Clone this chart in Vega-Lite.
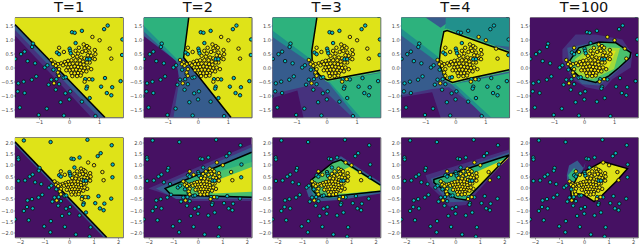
{"$schema":"https://vega.github.io/schema/vega-lite/v6.json","padding":{"left":0,"top":-1.5,"right":0,"bottom":0},"background":"white","bounds":"flush","columns":5,"spacing":{"column":20.75,"row":20},
"config":{"font":"DejaVu Sans","view":{"stroke":"#333","strokeWidth":0.8},"axis":{"grid":false,"domain":false,"tickSize":1.5,"tickWidth":0.5,"tickColor":"#444","labelFontSize":5,"labelColor":"#444","labelPadding":0.5},"title":{"fontSize":14.5,"fontWeight":"normal","offset":2.5,"baseline":"alphabetic","color":"#111"},"point":{"filled":true}},
"datasets":{
"regions":[
{"p":"a1","n":0,"l":0,"x":[-1.8,1.8,1.8,-1.8],"y":[1.8,1.8,-1.8,-1.8]},
{"p":"a1","n":1,"l":1,"x":[-1.8,-1.8,1.8,1.8,0.75],"y":[1.15,1.8,1.8,-1.8,-1.8]},
{"p":"a1","n":2,"l":2,"x":[-1.8,-1.8,1.8,1.8,1.0],"y":[1.35,1.8,1.8,-1.8,-1.8]},
{"p":"a1","n":3,"l":7,"x":[-1.8,-1.8,1.8,1.8,1.2],"y":[1.55,1.8,1.8,-1.8,-1.8]},
{"p":"a2","n":0,"l":0,"x":[-1.8,1.8,1.8,-1.8],"y":[1.8,1.8,-1.8,-1.8]},
{"p":"a2","n":1,"l":1,"x":[-1.8,-0.72,-0.64,-0.94,1.8,1.8,-1.8],"y":[1.25,0.33,-0.3,-1.8,-1.8,1.8,1.8]},
{"p":"a2","n":2,"l":2,"x":[-1.8,-0.72,-0.61,-0.81,1.8,1.8,-1.8],"y":[1.13,0.24,-0.42,-1.8,-1.8,1.8,1.8]},
{"p":"a2","n":3,"l":3,"x":[-1.8,-0.3,-0.47,-0.69,-1.8],"y":[1.8,1.8,0.36,0.2,1.3]},
{"p":"a2","n":4,"l":4,"x":[-1.8,-0.3,-0.47,-0.69,-1.8],"y":[1.8,1.8,0.36,0.3,1.5]},
{"p":"a2","n":5,"l":7,"x":[-0.3,1.8,1.8,1.11,-0.47],"y":[1.8,1.8,-1.8,-1.8,0.36]},
{"p":"a3","n":0,"l":1,"x":[-1.8,1.8,1.8,-1.8],"y":[1.8,1.8,-1.8,-1.8]},
{"p":"a3","n":1,"l":0,"x":[-1.8,-0.97,-0.77,-1.8],"y":[-1.1,-0.83,-1.8,-1.8]},
{"p":"a3","n":2,"l":2,"x":[-1.8,1.8,1.8,0.87,-0.19,-0.58,-1.8],"y":[1.8,1.8,-1.8,-1.8,-0.71,-0.65,-0.95]},
{"p":"a3","n":3,"l":3,"x":[-1.8,-0.32,-0.49,-0.52,-1.8],"y":[1.8,1.8,0.6,0.15,1.1]},
{"p":"a3","n":4,"l":3,"x":[0.03,1.8,1.8,1.0],"y":[-0.5,-0.2,-1.8,-1.8]},
{"p":"a3","n":5,"l":4,"x":[-1.8,-0.32,-0.49,-0.52,-1.8],"y":[1.8,1.8,0.6,0.3,1.33]},
{"p":"a3","n":6,"l":4,"x":[0.09,1.8,1.8,1.14],"y":[-0.5,-0.2,-1.8,-1.8]},
{"p":"a3","n":7,"l":5,"x":[-0.32,1.8,1.8,0.03,-0.19,-0.52,-0.52],"y":[1.8,1.8,-0.17,-0.52,-0.35,0.04,0.6]},
{"p":"a3","n":8,"l":7,"x":[-0.32,1.8,1.8,0.09,0.03,-0.19,-0.24,-0.47,-0.49],"y":[1.8,1.8,-0.1,-0.43,-0.45,-0.34,-0.26,0.06,0.6]},
{"p":"a4","n":0,"l":1,"x":[-1.8,1.8,1.8,-1.8],"y":[1.8,1.8,-1.8,-1.8]},
{"p":"a4","n":1,"l":0,"x":[-1.8,-0.77,-0.49,-1.8],"y":[-1.07,-0.89,-1.8,-1.8]},
{"p":"a4","n":2,"l":2,"x":[-1.8,1.8,1.8,1.12,-0.21,-0.77,-1.8],"y":[1.8,1.8,-1.8,-1.8,-0.71,-0.77,-1.0]},
{"p":"a4","n":3,"l":3,"x":[-1.8,-0.99,-0.32,-0.54,-0.6,-1.8],"y":[1.8,1.8,1.57,0.36,0.2,1.15]},
{"p":"a4","n":4,"l":3,"x":[-0.32,1.8,1.8,-0.5],"y":[1.8,1.8,0.75,1.0]},
{"p":"a4","n":5,"l":3,"x":[-0.15,1.8,1.8,1.0],"y":[-0.58,-0.3,-1.8,-1.8]},
{"p":"a4","n":6,"l":4,"x":[-1.8,-0.99,-0.32,-0.54,-1.8],"y":[1.8,1.8,1.57,0.36,1.4]},
{"p":"a4","n":7,"l":4,"x":[0.0,1.8,1.8,1.2],"y":[-0.6,-0.2,-1.8,-1.8]},
{"p":"a4","n":8,"l":2,"x":[-0.99,-0.32,-0.32,-0.49],"y":[1.8,1.8,1.57,1.43]},
{"p":"a4","n":9,"l":5,"x":[-0.29,-0.42,-0.53,-0.58,-0.34,-0.1,0.34,1.8,1.8],"y":[1.4,1.35,0.71,0.12,-0.47,-0.6,-0.48,-0.14,0.6]},
{"p":"a4","n":10,"l":7,"x":[-0.27,-0.38,-0.49,-0.54,-0.32,-0.1,0.34,1.8,1.8],"y":[1.33,1.29,0.71,0.12,-0.42,-0.54,-0.42,-0.08,0.54]},
{"p":"a5","n":0,"l":0,"x":[-1.8,1.8,1.8,-1.8],"y":[1.8,1.8,-1.8,-1.8]},
{"p":"a5","n":1,"l":1,"x":[-0.72,-0.28,0.39,1.28,1.61,1.56,0.94,0.61,0.06,-0.39,-0.72],"y":[0.65,1.19,1.19,1.01,0.48,0,-0.42,-0.83,-0.71,-0.42,0.24]},
{"p":"a5","n":2,"l":2,"x":[-0.56,0.28,0.94,1.56,1.59,0.94,0.5,-0.06,-0.44],"y":[0.71,0.89,0.98,0.6,0.36,-0.3,-0.65,-0.6,-0.18]},
{"p":"a5","n":3,"l":5,"x":[-0.48,-0.17,0.5,1.06,1.56,1.53,1.17,0.83,0.39,-0.06,-0.44,-0.52],"y":[0.24,0.71,0.92,0.89,0.54,0.36,0,-0.3,-0.54,-0.42,-0.06,0.12]},
{"p":"a5","n":4,"l":6,"x":[-0.3,0.25,1.2,1.0,0.28,-0.25],"y":[0.3,0.75,0.7,-0.05,-0.42,-0.25]},
{"p":"a5","n":5,"l":7,"x":[-0.17,0.28,1.06,0.83,0.28,-0.11],"y":[0.24,0.6,0.6,0,-0.3,-0.18]},
{"p":"b1","n":0,"l":0,"x":[-2.2,2.2,2.2,-2.2],"y":[2.2,2.2,-2.2,-2.2]},
{"p":"b1","n":1,"l":2,"x":[-2.2,-2.2,2.2,2.2,1.42],"y":[1.88,2.2,2.2,-2.2,-2.2]},
{"p":"b1","n":2,"l":7,"x":[-2.2,-2.2,2.2,2.2,1.54],"y":[2.01,2.2,2.2,-2.2,-2.2]},
{"p":"b2","n":0,"l":0,"x":[-2.2,2.2,2.2,-2.2],"y":[2.2,2.2,-2.2,-2.2]},
{"p":"b2","n":1,"l":1,"x":[-2.01,-0.47,2.2,2.2,-0.47],"y":[-0.04,0.68,1.91,-0.59,-0.59]},
{"p":"b2","n":2,"l":2,"x":[-1.7,2.2,2.2,-0.88],"y":[-0.04,1.77,-0.51,-0.51]},
{"p":"b2","n":3,"l":4,"x":[-1.33,-1.02,2.2,2.2,-1.08],"y":[-0.04,0.1,1.55,-0.43,-0.33]},
{"p":"b2","n":4,"l":5,"x":[-0.47,0.34,2.2,2.2,-0.34],"y":[0.1,0.55,1.12,-0.36,-0.36]},
{"p":"b2","n":5,"l":7,"x":[0.62,2.2,2.2,0.62],"y":[0.25,0.9,-0.19,-0.26]},
{"p":"b3","n":0,"l":0,"x":[-2.2,2.2,2.2,-2.2],"y":[2.2,2.2,-2.2,-2.2]},
{"p":"b3","n":1,"l":2,"x":[-0.84,-0.43,0.39,0.59,2.2,2.2,0.52,-0.43,-0.73],"y":[-0.04,0.46,1.26,1.38,0.22,-0.26,-0.55,-0.62,-0.41]},
{"p":"b3","n":2,"l":3,"x":[-0.7,0.32,0.59,2.2,2.2,0.11,-0.5],"y":[0.03,1.12,1.26,0.13,-0.19,-0.48,-0.41]},
{"p":"b3","n":3,"l":5,"x":[2.2,0.59,0.25,-0.64,-0.57,-0.36,0.11,2.2],"y":[0.1,1.22,1.09,0.32,-0.12,-0.36,-0.41,-0.16]},
{"p":"b3","n":4,"l":7,"x":[0.11,0.93,2.2,2.2,0.79,0.18],"y":[0.46,0.9,0.07,-0.13,-0.26,-0.26]},
{"p":"b4","n":0,"l":0,"x":[-2.2,2.2,2.2,-2.2],"y":[2.2,2.2,-2.2,-2.2]},
{"p":"b4","n":1,"l":1,"x":[-1.21,2.2,2.2,0.43,-0.25,-0.66,-1.07],"y":[0.54,1.67,1.38,-0.77,-0.84,-0.33,0.1]},
{"p":"b4","n":2,"l":2,"x":[-1,2.2,2.2,0.43,-0.25,-0.87],"y":[0.39,1.55,1.41,-0.62,-0.65,0.1]},
{"p":"b4","n":3,"l":4,"x":[2.2,-0.87,-0.87,0.02,0.43],"y":[1.43,0.35,0.22,-0.48,-0.55]},
{"p":"b4","n":4,"l":7,"x":[0.56,2.2,0.49,0.02],"y":[0.54,1.33,-0.41,-0.04]},
{"p":"b5","n":0,"l":0,"x":[-2.2,2.2,2.2,-2.2],"y":[2.2,2.2,-2.2,-2.2]},
{"p":"b5","n":1,"l":2,"x":[-0.7,-0.61,-0.27,0,0.07,-0.2,-0.68],"y":[0.54,0.97,1.19,0.83,1.12,0.39,0.25]},
{"p":"b5","n":2,"l":4,"x":[-0.65,-0.4,-0.13,-0.2,-0.58],"y":[0.54,0.86,0.54,0.17,0.32]},
{"p":"b5","n":3,"l":7,"x":[0.75,1.77,1.3,0.75,0.41,0,-0.34,-0.44,-0.5,-0.54,-0.24,0.1],"y":[1.14,0.83,0.25,-0.33,-0.62,-0.33,-0.26,-0.62,-0.62,-0.12,0.54,0.75]}
],
"bounds":[
{"p":"a1","x":[-1.8,1.2],"y":[1.55,-1.8]},
{"p":"a2","x":[-0.3,-0.47,1.11],"y":[1.8,0.36,-1.8]},
{"p":"a3","x":[-0.32,-0.49,-0.47,-0.24,-0.1,0.03,0.14,1.8],"y":[1.8,0.6,0.06,-0.26,-0.38,-0.45,-0.43,-0.1]},
{"p":"a4","x":[1.8,-0.27,-0.38,-0.49,-0.54,-0.32,-0.1,0.34,1.8],"y":[0.54,1.33,1.29,0.71,0.12,-0.42,-0.54,-0.42,-0.08]},
{"p":"a5","x":[-0.48,-0.17,0.5,1.06,1.56,1.53,1.17,0.83,0.39,-0.06,-0.44,-0.52,-0.48],"y":[0.24,0.71,0.92,0.89,0.54,0.36,0,-0.3,-0.54,-0.42,-0.06,0.12,0.24]},
{"p":"b1","x":[-2.2,1.54],"y":[2.01,-2.2]},
{"p":"b2","x":[2.2,-1.02,-1.33,-1.08,2.2],"y":[1.55,0.1,-0.04,-0.33,-0.43]},
{"p":"b3","x":[2.2,0.59,0.25,-0.64,-0.57,-0.36,0.11,2.2],"y":[0.1,1.22,1.09,0.32,-0.12,-0.36,-0.41,-0.16]},
{"p":"b4","x":[2.2,-0.87,-0.87,0.02,0.43,2.2],"y":[1.43,0.35,0.22,-0.48,-0.55,1.43]},
{"p":"b5","x":[0.75,1.77,1.3,0.75,0.41,0,-0.34,-0.44,-0.5,-0.54,-0.24,0.1,0.75],"y":[1.14,0.83,0.25,-0.33,-0.62,-0.33,-0.26,-0.62,-0.62,-0.12,0.54,0.75,1.14]}
],
"pts":[
{"c":0,"x":0.10,"y":1.27},{"c":0,"x":0.19,"y":1.25},{"c":0,"x":0.43,"y":1.32},{"c":0,"x":1.17,"y":1.38},{"c":0,"x":1.29,"y":1.51},{"c":0,"x":1.78,"y":1.01},{"c":0,"x":0.22,"y":0.88},{"c":0,"x":-1.2,"y":0.86},{"c":0,"x":-1.23,"y":0.74},{"c":0,"x":-1.48,"y":0.57},{"c":0,"x":-1.6,"y":0.48},{"c":0,"x":-1.79,"y":0.31},{"c":0,"x":-1.38,"y":0.23},{"c":0,"x":-1.13,"y":0.15},{"c":0,"x":-0.4,"y":0.54},{"c":0,"x":-0.33,"y":0.48},{"c":0,"x":0.02,"y":0.68},{"c":0,"x":0.04,"y":0.6},{"c":0,"x":0.06,"y":0.51},{"c":0,"x":-0.81,"y":0},{"c":0,"x":-0.72,"y":0.08},{"c":0,"x":-0.52,"y":-0.08},{"c":0,"x":-0.37,"y":-0.24},{"c":0,"x":-1.09,"y":-0.32},{"c":0,"x":-1.24,"y":-0.44},{"c":0,"x":-1.51,"y":-0.51},{"c":0,"x":-1.69,"y":-0.57},{"c":0,"x":-1.71,"y":-0.86},{"c":0,"x":-1.48,"y":-0.92},{"c":0,"x":-0.59,"y":-0.44},{"c":0,"x":-0.42,"y":-0.42},{"c":0,"x":-0.68,"y":-0.62},{"c":0,"x":-0.33,"y":-0.6},{"c":0,"x":-0.44,"y":-0.8},{"c":0,"x":-0.18,"y":-0.37},{"c":0,"x":-0.11,"y":-0.35},{"c":0,"x":0.78,"y":-0.43},{"c":0,"x":0.54,"y":-0.42},{"c":0,"x":0.6,"y":-0.69},{"c":0,"x":0.58,"y":-0.76},{"c":0,"x":1.2,"y":-0.38},{"c":0,"x":1.07,"y":-0.69},{"c":0,"x":1.44,"y":-0.71},{"c":0,"x":1.26,"y":-0.92},{"c":0,"x":1.41,"y":-1},{"c":0,"x":1.72,"y":-0.49},{"c":0,"x":1.77,"y":0.45},{"c":0,"x":0.69,"y":-1.1},{"c":0,"x":0.43,"y":-1.23},{"c":0,"x":0.01,"y":-1.15},{"c":0,"x":-0.12,"y":-0.93},{"c":0,"x":0.04,"y":-0.86},{"c":0,"x":-0.28,"y":-1.25},{"c":0,"x":-0.74,"y":-1.48},{"c":0,"x":-1.64,"y":-1.44},{"c":0,"x":-1.01,"y":-1.71},{"c":0,"x":-0.17,"y":-1.73},{"c":0,"x":0.88,"y":-1.75},
{"c":0,"x":-1.84,"y":2.07},{"c":0,"x":-0.75,"y":2.0},{"c":0,"x":0.75,"y":2.1},{"c":0,"x":1.74,"y":1.86},{"c":0,"x":-2.07,"y":1.32},{"c":0,"x":-2.06,"y":1.23},{"c":0,"x":-2.06,"y":0.29},{"c":0,"x":-1.84,"y":-1.03},{"c":0,"x":-0.76,"y":-1.97},{"c":0,"x":0.28,"y":-2.07},{"c":0,"x":0.84,"y":-2.16},{"c":0,"x":-2.2,"y":-1.4},
{"c":1,"x":0.49,"y":0.83},{"c":1,"x":0.6,"y":0.77},{"c":1,"x":0.67,"y":0.71},{"c":1,"x":0.52,"y":0.69},{"c":1,"x":0.56,"y":0.6},{"c":1,"x":0.44,"y":0.56},{"c":1,"x":0.69,"y":0.54},{"c":1,"x":0.86,"y":0.63},{"c":1,"x":0.88,"y":0.48},{"c":1,"x":0.8,"y":0.33},{"c":1,"x":0.74,"y":0.42},{"c":1,"x":0.63,"y":0.44},{"c":1,"x":0.33,"y":0.71},{"c":1,"x":0.22,"y":0.6},{"c":1,"x":0.3,"y":0.5},{"c":1,"x":0.13,"y":0.42},{"c":1,"x":0.27,"y":0.39},{"c":1,"x":0.41,"y":0.36},{"c":1,"x":0.52,"y":0.33},{"c":1,"x":0.69,"y":0.18},{"c":1,"x":0.6,"y":0.18},{"c":1,"x":0.47,"y":0.21},{"c":1,"x":0.36,"y":0.26},{"c":1,"x":0.22,"y":0.26},{"c":1,"x":0.08,"y":0.26},{"c":1,"x":-0.03,"y":0.24},{"c":1,"x":-0.14,"y":0.2},{"c":1,"x":-0.26,"y":0.15},{"c":1,"x":-0.37,"y":0.12},{"c":1,"x":-0.48,"y":0.18},{"c":1,"x":-0.59,"y":0.27},{"c":1,"x":-0.53,"y":0.12},{"c":1,"x":-0.44,"y":0.06},{"c":1,"x":-0.33,"y":-0.06},{"c":1,"x":-0.37,"y":-0.18},{"c":1,"x":-0.33,"y":-0.3},{"c":1,"x":-0.2,"y":0.08},{"c":1,"x":-0.09,"y":0.12},{"c":1,"x":0.02,"y":0.12},{"c":1,"x":0.13,"y":0.14},{"c":1,"x":0.27,"y":0.14},{"c":1,"x":0.38,"y":0.12},{"c":1,"x":0.49,"y":0.1},{"c":1,"x":0.86,"y":0.3},{"c":1,"x":0.74,"y":-0.06},{"c":1,"x":-0.03,"y":0},{"c":1,"x":0.08,"y":0.02},{"c":1,"x":0.19,"y":0.04},{"c":1,"x":0.3,"y":0.02},{"c":1,"x":0.41,"y":0},{"c":1,"x":0.52,"y":-0.02},{"c":1,"x":0.63,"y":0},{"c":1,"x":0.02,"y":-0.1},{"c":1,"x":0.13,"y":-0.08},{"c":1,"x":0.24,"y":-0.08},{"c":1,"x":0.36,"y":-0.1},{"c":1,"x":0.47,"y":-0.12},{"c":1,"x":0.58,"y":-0.14},{"c":1,"x":0.08,"y":-0.2},{"c":1,"x":0.19,"y":-0.21},{"c":1,"x":0.3,"y":-0.2},{"c":1,"x":0.41,"y":-0.2},{"c":1,"x":0.11,"y":-0.31},{"c":1,"x":0.27,"y":-0.31},{"c":1,"x":0.39,"y":-0.29},{"c":1,"x":-0.09,"y":-0.1},{"c":1,"x":-0.33,"y":0.71},{"c":1,"x":-0.17,"y":0.56},{"c":1,"x":0.78,"y":1.1},{"c":1,"x":1.02,"y":0.98},{"c":1,"x":1.36,"y":0.68},{"c":1,"x":1.41,"y":0.32},{"c":1,"x":-0.5,"y":-0.57},{"c":1,"x":0.52,"y":-0.51},{"c":1,"x":0.67,"y":-0.42},
{"c":0,"x":0.6,"y":0.3},{"c":0,"x":0.69,"y":0.3}
]},
"concat":[
{"width":108,"height":100,"title":"T=1","encoding":{"x":{"field":"x","type":"quantitative","title":null,"scale":{"domain":[-1.8,1.8]},"axis":{"values":[-1,0,1]}},"y":{"field":"y","type":"quantitative","title":null,"scale":{"domain":[-1.8,1.8]},"axis":{"values":[-1.5,-1,-0.5,0,0.5,1,1.5],"format":".1f"}}},"layer":[
{"data":{"name":"regions"},"transform":[{"filter":"datum.p=='a1'"},{"flatten":["x","y"]},{"window":[{"op":"row_number","as":"i"}]}],"mark":{"type":"line","interpolate":"linear-closed","clip":true,"strokeWidth":0},"encoding":{"order":{"field":"i"},"detail":{"field":"n"},"fill":{"field":"l","type":"ordinal","legend":null,"scale":{"domain":[0,1,2,3,4,5,6,7],"range":["#461163","#46327e","#365c8d","#21908c","#2db27d","#4ac16d","#a0da39","#dfe318"]}}}},
{"data":{"name":"bounds"},"transform":[{"filter":"datum.p=='a1'"},{"flatten":["x","y"]},{"window":[{"op":"row_number","as":"i"}]}],"mark":{"type":"line","clip":true,"color":"black","strokeWidth":1.5},"encoding":{"order":{"field":"i"}}},
{"data":{"name":"pts"},"mark":{"type":"point","clip":true,"filled":true,"size":12,"stroke":"#111","strokeWidth":0.9,"opacity":1},"encoding":{"color":{"field":"c","type":"nominal","legend":null,"scale":{"domain":[0,1],"range":["#06bcc4","#f5e60a"]}}}}
]},
{"width":108,"height":100,"title":"T=2","encoding":{"x":{"field":"x","type":"quantitative","title":null,"scale":{"domain":[-1.8,1.8]},"axis":{"values":[-1,0,1]}},"y":{"field":"y","type":"quantitative","title":null,"scale":{"domain":[-1.8,1.8]},"axis":{"values":[-1.5,-1,-0.5,0,0.5,1,1.5],"format":".1f"}}},"layer":[
{"data":{"name":"regions"},"transform":[{"filter":"datum.p=='a2'"},{"flatten":["x","y"]},{"window":[{"op":"row_number","as":"i"}]}],"mark":{"type":"line","interpolate":"linear-closed","clip":true,"strokeWidth":0},"encoding":{"order":{"field":"i"},"detail":{"field":"n"},"fill":{"field":"l","type":"ordinal","legend":null,"scale":{"domain":[0,1,2,3,4,5,6,7],"range":["#461163","#46327e","#365c8d","#21908c","#2db27d","#4ac16d","#a0da39","#dfe318"]}}}},
{"data":{"name":"bounds"},"transform":[{"filter":"datum.p=='a2'"},{"flatten":["x","y"]},{"window":[{"op":"row_number","as":"i"}]}],"mark":{"type":"line","clip":true,"color":"black","strokeWidth":1.5},"encoding":{"order":{"field":"i"}}},
{"data":{"name":"pts"},"mark":{"type":"point","clip":true,"filled":true,"size":12,"stroke":"#111","strokeWidth":0.9,"opacity":1},"encoding":{"color":{"field":"c","type":"nominal","legend":null,"scale":{"domain":[0,1],"range":["#06bcc4","#f5e60a"]}}}}
]},
{"width":108,"height":100,"title":"T=3","encoding":{"x":{"field":"x","type":"quantitative","title":null,"scale":{"domain":[-1.8,1.8]},"axis":{"values":[-1,0,1]}},"y":{"field":"y","type":"quantitative","title":null,"scale":{"domain":[-1.8,1.8]},"axis":{"values":[-1.5,-1,-0.5,0,0.5,1,1.5],"format":".1f"}}},"layer":[
{"data":{"name":"regions"},"transform":[{"filter":"datum.p=='a3'"},{"flatten":["x","y"]},{"window":[{"op":"row_number","as":"i"}]}],"mark":{"type":"line","interpolate":"linear-closed","clip":true,"strokeWidth":0},"encoding":{"order":{"field":"i"},"detail":{"field":"n"},"fill":{"field":"l","type":"ordinal","legend":null,"scale":{"domain":[0,1,2,3,4,5,6,7],"range":["#461163","#46327e","#365c8d","#21908c","#2db27d","#4ac16d","#a0da39","#dfe318"]}}}},
{"data":{"name":"bounds"},"transform":[{"filter":"datum.p=='a3'"},{"flatten":["x","y"]},{"window":[{"op":"row_number","as":"i"}]}],"mark":{"type":"line","clip":true,"color":"black","strokeWidth":1.5},"encoding":{"order":{"field":"i"}}},
{"data":{"name":"pts"},"mark":{"type":"point","clip":true,"filled":true,"size":12,"stroke":"#111","strokeWidth":0.9,"opacity":1},"encoding":{"color":{"field":"c","type":"nominal","legend":null,"scale":{"domain":[0,1],"range":["#06bcc4","#f5e60a"]}}}}
]},
{"width":108,"height":100,"title":"T=4","encoding":{"x":{"field":"x","type":"quantitative","title":null,"scale":{"domain":[-1.8,1.8]},"axis":{"values":[-1,0,1]}},"y":{"field":"y","type":"quantitative","title":null,"scale":{"domain":[-1.8,1.8]},"axis":{"values":[-1.5,-1,-0.5,0,0.5,1,1.5],"format":".1f"}}},"layer":[
{"data":{"name":"regions"},"transform":[{"filter":"datum.p=='a4'"},{"flatten":["x","y"]},{"window":[{"op":"row_number","as":"i"}]}],"mark":{"type":"line","interpolate":"linear-closed","clip":true,"strokeWidth":0},"encoding":{"order":{"field":"i"},"detail":{"field":"n"},"fill":{"field":"l","type":"ordinal","legend":null,"scale":{"domain":[0,1,2,3,4,5,6,7],"range":["#461163","#46327e","#365c8d","#21908c","#2db27d","#4ac16d","#a0da39","#dfe318"]}}}},
{"data":{"name":"bounds"},"transform":[{"filter":"datum.p=='a4'"},{"flatten":["x","y"]},{"window":[{"op":"row_number","as":"i"}]}],"mark":{"type":"line","clip":true,"color":"black","strokeWidth":1.5},"encoding":{"order":{"field":"i"}}},
{"data":{"name":"pts"},"mark":{"type":"point","clip":true,"filled":true,"size":12,"stroke":"#111","strokeWidth":0.9,"opacity":1},"encoding":{"color":{"field":"c","type":"nominal","legend":null,"scale":{"domain":[0,1],"range":["#06bcc4","#f5e60a"]}}}}
]},
{"width":108,"height":100,"title":"T=100","encoding":{"x":{"field":"x","type":"quantitative","title":null,"scale":{"domain":[-1.8,1.8]},"axis":{"values":[-1,0,1]}},"y":{"field":"y","type":"quantitative","title":null,"scale":{"domain":[-1.8,1.8]},"axis":{"values":[-1.5,-1,-0.5,0,0.5,1,1.5],"format":".1f"}}},"layer":[
{"data":{"name":"regions"},"transform":[{"filter":"datum.p=='a5'"},{"flatten":["x","y"]},{"window":[{"op":"row_number","as":"i"}]}],"mark":{"type":"line","interpolate":"linear-closed","clip":true,"strokeWidth":0},"encoding":{"order":{"field":"i"},"detail":{"field":"n"},"fill":{"field":"l","type":"ordinal","legend":null,"scale":{"domain":[0,1,2,3,4,5,6,7],"range":["#461163","#46327e","#365c8d","#21908c","#2db27d","#4ac16d","#a0da39","#dfe318"]}}}},
{"data":{"name":"bounds"},"transform":[{"filter":"datum.p=='a5'"},{"flatten":["x","y"]},{"window":[{"op":"row_number","as":"i"}]}],"mark":{"type":"line","clip":true,"color":"black","strokeWidth":1.5},"encoding":{"order":{"field":"i"}}},
{"data":{"name":"pts"},"mark":{"type":"point","clip":true,"filled":true,"size":12,"stroke":"#111","strokeWidth":0.9,"opacity":1},"encoding":{"color":{"field":"c","type":"nominal","legend":null,"scale":{"domain":[0,1],"range":["#06bcc4","#f5e60a"]}}}}
]},
{"width":108,"height":100,"encoding":{"x":{"field":"x","type":"quantitative","title":null,"scale":{"domain":[-2.2,2.2]},"axis":{"values":[-2,-1,0,1,2]}},"y":{"field":"y","type":"quantitative","title":null,"scale":{"domain":[-2.2,2.2]},"axis":{"values":[-2,-1.5,-1,-0.5,0,0.5,1,1.5,2],"format":".1f"}}},"layer":[
{"data":{"name":"regions"},"transform":[{"filter":"datum.p=='b1'"},{"flatten":["x","y"]},{"window":[{"op":"row_number","as":"i"}]}],"mark":{"type":"line","interpolate":"linear-closed","clip":true,"strokeWidth":0},"encoding":{"order":{"field":"i"},"detail":{"field":"n"},"fill":{"field":"l","type":"ordinal","legend":null,"scale":{"domain":[0,1,2,3,4,5,6,7],"range":["#461163","#46327e","#365c8d","#21908c","#2db27d","#4ac16d","#a0da39","#dfe318"]}}}},
{"data":{"name":"bounds"},"transform":[{"filter":"datum.p=='b1'"},{"flatten":["x","y"]},{"window":[{"op":"row_number","as":"i"}]}],"mark":{"type":"line","clip":true,"color":"black","strokeWidth":1.5},"encoding":{"order":{"field":"i"}}},
{"data":{"name":"pts"},"mark":{"type":"point","clip":true,"filled":true,"size":12,"stroke":"#111","strokeWidth":0.9,"opacity":1},"encoding":{"color":{"field":"c","type":"nominal","legend":null,"scale":{"domain":[0,1],"range":["#06bcc4","#f5e60a"]}}}}
]},
{"width":108,"height":100,"encoding":{"x":{"field":"x","type":"quantitative","title":null,"scale":{"domain":[-2.2,2.2]},"axis":{"values":[-2,-1,0,1,2]}},"y":{"field":"y","type":"quantitative","title":null,"scale":{"domain":[-2.2,2.2]},"axis":{"values":[-2,-1.5,-1,-0.5,0,0.5,1,1.5,2],"format":".1f"}}},"layer":[
{"data":{"name":"regions"},"transform":[{"filter":"datum.p=='b2'"},{"flatten":["x","y"]},{"window":[{"op":"row_number","as":"i"}]}],"mark":{"type":"line","interpolate":"linear-closed","clip":true,"strokeWidth":0},"encoding":{"order":{"field":"i"},"detail":{"field":"n"},"fill":{"field":"l","type":"ordinal","legend":null,"scale":{"domain":[0,1,2,3,4,5,6,7],"range":["#461163","#46327e","#365c8d","#21908c","#2db27d","#4ac16d","#a0da39","#dfe318"]}}}},
{"data":{"name":"bounds"},"transform":[{"filter":"datum.p=='b2'"},{"flatten":["x","y"]},{"window":[{"op":"row_number","as":"i"}]}],"mark":{"type":"line","clip":true,"color":"black","strokeWidth":1.5},"encoding":{"order":{"field":"i"}}},
{"data":{"name":"pts"},"mark":{"type":"point","clip":true,"filled":true,"size":12,"stroke":"#111","strokeWidth":0.9,"opacity":1},"encoding":{"color":{"field":"c","type":"nominal","legend":null,"scale":{"domain":[0,1],"range":["#06bcc4","#f5e60a"]}}}}
]},
{"width":108,"height":100,"encoding":{"x":{"field":"x","type":"quantitative","title":null,"scale":{"domain":[-2.2,2.2]},"axis":{"values":[-2,-1,0,1,2]}},"y":{"field":"y","type":"quantitative","title":null,"scale":{"domain":[-2.2,2.2]},"axis":{"values":[-2,-1.5,-1,-0.5,0,0.5,1,1.5,2],"format":".1f"}}},"layer":[
{"data":{"name":"regions"},"transform":[{"filter":"datum.p=='b3'"},{"flatten":["x","y"]},{"window":[{"op":"row_number","as":"i"}]}],"mark":{"type":"line","interpolate":"linear-closed","clip":true,"strokeWidth":0},"encoding":{"order":{"field":"i"},"detail":{"field":"n"},"fill":{"field":"l","type":"ordinal","legend":null,"scale":{"domain":[0,1,2,3,4,5,6,7],"range":["#461163","#46327e","#365c8d","#21908c","#2db27d","#4ac16d","#a0da39","#dfe318"]}}}},
{"data":{"name":"bounds"},"transform":[{"filter":"datum.p=='b3'"},{"flatten":["x","y"]},{"window":[{"op":"row_number","as":"i"}]}],"mark":{"type":"line","clip":true,"color":"black","strokeWidth":1.5},"encoding":{"order":{"field":"i"}}},
{"data":{"name":"pts"},"mark":{"type":"point","clip":true,"filled":true,"size":12,"stroke":"#111","strokeWidth":0.9,"opacity":1},"encoding":{"color":{"field":"c","type":"nominal","legend":null,"scale":{"domain":[0,1],"range":["#06bcc4","#f5e60a"]}}}}
]},
{"width":108,"height":100,"encoding":{"x":{"field":"x","type":"quantitative","title":null,"scale":{"domain":[-2.2,2.2]},"axis":{"values":[-2,-1,0,1,2]}},"y":{"field":"y","type":"quantitative","title":null,"scale":{"domain":[-2.2,2.2]},"axis":{"values":[-2,-1.5,-1,-0.5,0,0.5,1,1.5,2],"format":".1f"}}},"layer":[
{"data":{"name":"regions"},"transform":[{"filter":"datum.p=='b4'"},{"flatten":["x","y"]},{"window":[{"op":"row_number","as":"i"}]}],"mark":{"type":"line","interpolate":"linear-closed","clip":true,"strokeWidth":0},"encoding":{"order":{"field":"i"},"detail":{"field":"n"},"fill":{"field":"l","type":"ordinal","legend":null,"scale":{"domain":[0,1,2,3,4,5,6,7],"range":["#461163","#46327e","#365c8d","#21908c","#2db27d","#4ac16d","#a0da39","#dfe318"]}}}},
{"data":{"name":"bounds"},"transform":[{"filter":"datum.p=='b4'"},{"flatten":["x","y"]},{"window":[{"op":"row_number","as":"i"}]}],"mark":{"type":"line","clip":true,"color":"black","strokeWidth":1.5},"encoding":{"order":{"field":"i"}}},
{"data":{"name":"pts"},"mark":{"type":"point","clip":true,"filled":true,"size":12,"stroke":"#111","strokeWidth":0.9,"opacity":1},"encoding":{"color":{"field":"c","type":"nominal","legend":null,"scale":{"domain":[0,1],"range":["#06bcc4","#f5e60a"]}}}}
]},
{"width":108,"height":100,"encoding":{"x":{"field":"x","type":"quantitative","title":null,"scale":{"domain":[-2.2,2.2]},"axis":{"values":[-2,-1,0,1,2]}},"y":{"field":"y","type":"quantitative","title":null,"scale":{"domain":[-2.2,2.2]},"axis":{"values":[-2,-1.5,-1,-0.5,0,0.5,1,1.5,2],"format":".1f"}}},"layer":[
{"data":{"name":"regions"},"transform":[{"filter":"datum.p=='b5'"},{"flatten":["x","y"]},{"window":[{"op":"row_number","as":"i"}]}],"mark":{"type":"line","interpolate":"linear-closed","clip":true,"strokeWidth":0},"encoding":{"order":{"field":"i"},"detail":{"field":"n"},"fill":{"field":"l","type":"ordinal","legend":null,"scale":{"domain":[0,1,2,3,4,5,6,7],"range":["#461163","#46327e","#365c8d","#21908c","#2db27d","#4ac16d","#a0da39","#dfe318"]}}}},
{"data":{"name":"bounds"},"transform":[{"filter":"datum.p=='b5'"},{"flatten":["x","y"]},{"window":[{"op":"row_number","as":"i"}]}],"mark":{"type":"line","clip":true,"color":"black","strokeWidth":1.5},"encoding":{"order":{"field":"i"}}},
{"data":{"name":"pts"},"mark":{"type":"point","clip":true,"filled":true,"size":12,"stroke":"#111","strokeWidth":0.9,"opacity":1},"encoding":{"color":{"field":"c","type":"nominal","legend":null,"scale":{"domain":[0,1],"range":["#06bcc4","#f5e60a"]}}}}
]}
]}
